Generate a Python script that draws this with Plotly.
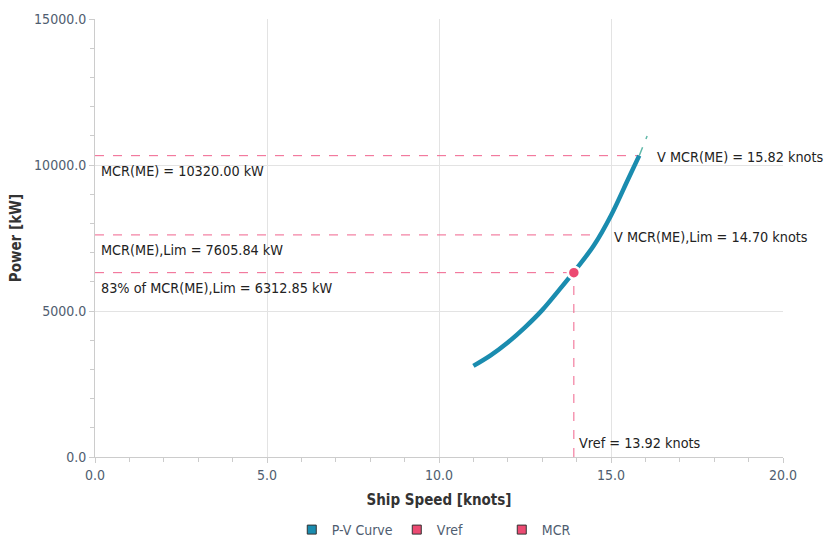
import plotly.graph_objects as go

# ---- data ----
pv_speed = [11.0, 11.5, 12.0, 12.5, 13.0, 13.5, 14.0, 14.5, 15.0, 15.5, 15.82]
pv_power = [3120, 3480, 3920, 4440, 5030, 5730, 6460, 7240, 8270, 9520, 10320]
ext_speed = [15.82, 16.05]
ext_power = [10320, 10990]

mcr_power = 10320.00
mcr_lim_power = 7605.84
mcr83_power = 6312.85
v_mcr = 15.82
v_mcr_lim = 14.70
v_ref = 13.92

x_ticks = [0, 5, 10, 15, 20]
y_ticks = [0, 5000, 10000, 15000]

TEAL = "#1a8caf"
PINK = "#ec4a72"
DASH = "#f0628c"
FONT = "DejaVu Sans Condensed"

fig = go.Figure()

# reference dashed lines
fig.add_trace(go.Scatter(x=[0, v_mcr], y=[mcr_power, mcr_power], mode="lines",
                         line=dict(color=DASH, width=1, dash="dash"), showlegend=False, hoverinfo="skip"))
fig.add_trace(go.Scatter(x=[0, v_mcr_lim], y=[mcr_lim_power, mcr_lim_power], mode="lines",
                         line=dict(color=DASH, width=1, dash="dash"), showlegend=False, hoverinfo="skip"))
fig.add_trace(go.Scatter(x=[0, v_ref], y=[mcr83_power, mcr83_power], mode="lines",
                         line=dict(color=DASH, width=1, dash="dash"), showlegend=False, hoverinfo="skip"))
fig.add_trace(go.Scatter(x=[v_ref, v_ref], y=[0, mcr83_power], mode="lines",
                         line=dict(color=DASH, width=1, dash="dash"), showlegend=False, hoverinfo="skip"))

# P-V curve
fig.add_trace(go.Scatter(x=pv_speed, y=pv_power, mode="lines", line=dict(color=TEAL, width=4.5, shape="spline"),
                         showlegend=False))
fig.add_trace(go.Scatter(x=ext_speed, y=ext_power, mode="lines",
                         line=dict(color="#5fb8a8", width=1.5, dash="dash"), showlegend=False))

# MCR point
fig.add_trace(go.Scatter(x=[v_ref], y=[mcr83_power], mode="markers",
                         marker=dict(color=PINK, size=12, line=dict(color="white", width=2.5)),
                         showlegend=False))

# legend entries
for name, col in [("P-V Curve", TEAL), ("Vref", PINK), ("MCR", PINK)]:
    fig.add_trace(go.Scatter(x=[None], y=[None], mode="markers", name=name,
                             marker=dict(symbol="square", size=9, color=col,
                                         line=dict(color="#333333", width=1))))

afont = dict(family=FONT, size=14.3, color="#222222")
ann = [
    dict(x=0, y=mcr_power, text="MCR(ME) = 10320.00 kW", xanchor="left", yanchor="top", xshift=4, yshift=-5),
    dict(x=0, y=mcr_lim_power, text="MCR(ME),Lim = 7605.84 kW", xanchor="left", yanchor="top", xshift=4, yshift=-5),
    dict(x=0, y=mcr83_power, text="83% of MCR(ME),Lim = 6312.85 kW", xanchor="left", yanchor="top", xshift=4, yshift=-5),
    dict(x=v_mcr, y=mcr_power, text="V MCR(ME) = 15.82 knots", xanchor="left", yanchor="middle", xshift=16, yshift=-1),
    dict(x=v_mcr_lim, y=mcr_lim_power, text="V MCR(ME),Lim = 14.70 knots", xanchor="left", yanchor="middle", xshift=11, yshift=-2),
    dict(x=v_ref, y=0, text="Vref = 13.92 knots", xanchor="left", yanchor="bottom", xshift=3, yshift=4),
]
for a in ann:
    a.update(xref="x", yref="y", showarrow=False, font=afont)
fig.update_layout(annotations=ann)

tickfont = dict(family=FONT, size=14, color="#4f5d70")
titlefont = dict(family=FONT, size=15, color="#333333")
fig.update_xaxes(range=[0, 20], tickvals=x_ticks, ticktext=[f"{v:.1f}" for v in x_ticks],
                 showgrid=True, gridcolor="#e3e3e3", gridwidth=1, zeroline=False,
                 showline=True, linecolor="#cccccc", linewidth=1, automargin=False,
                 ticks="outside", ticklen=5, tickcolor="#cccccc",
                 minor=dict(dtick=1, ticks="outside", ticklen=4, tickcolor="#cccccc", showgrid=False),
                 tickfont=tickfont,
                 title=dict(text="<b>Ship Speed [knots]</b>", font=titlefont, standoff=12))
fig.update_yaxes(range=[0, 15000], tickvals=y_ticks, ticktext=[f"{v:.1f}" for v in y_ticks],
                 showgrid=True, gridcolor="#e3e3e3", gridwidth=1, zeroline=False,
                 showline=True, linecolor="#cccccc", linewidth=1, automargin=False,
                 ticks="outside", ticklen=5, tickcolor="#cccccc",
                 minor=dict(dtick=1000, ticks="outside", ticklen=4, tickcolor="#cccccc", showgrid=False),
                 tickfont=tickfont,
                 title=dict(text="<b>Power [kW]</b>", font=titlefont, standoff=8))

fig.update_layout(
    width=827, height=546,
    margin=dict(l=95, r=44, t=19, b=89),
    plot_bgcolor="white", paper_bgcolor="white",
    font=dict(family=FONT),
    legend=dict(orientation="h", x=0.286, xanchor="left", xref="paper",
                y=-0.014, yanchor="bottom", yref="container",
                font=dict(family=FONT, size=14, color="#4f5d70"), itemwidth=30,
                entrywidth=60, entrywidthmode="pixels"),
)

fig.write_html("out.html", config={"displayModeBar": False},
               post_script="document.body.style.margin='0';document.body.style.overflow='hidden';")
